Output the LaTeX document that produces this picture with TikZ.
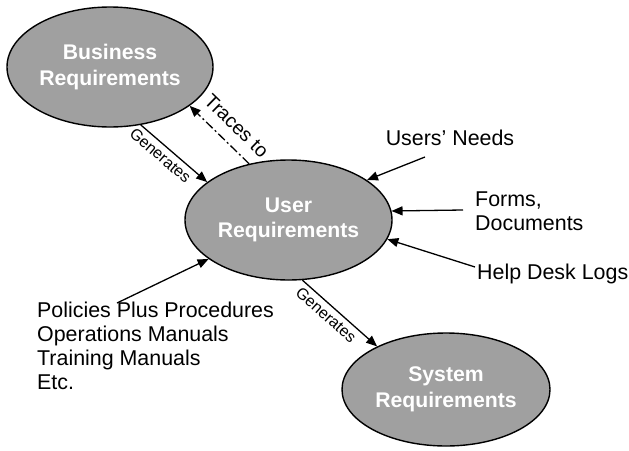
\documentclass[tikz,border=0pt]{standalone}
\usepackage{fontspec}
\setmainfont{Liberation Sans}
\usetikzlibrary{shapes.geometric,arrows.meta}
\definecolor{reqgray}{RGB}{160,160,160}
\tikzset{
  req/.style={ellipse, draw=black, line width=1.4pt, fill=reqgray,
    text=white, font=\fontsize{21.2}{25.5}\selectfont\bfseries, align=center,
    inner sep=0pt},
  feed/.style={line width=1.3pt, -{Triangle[length=11pt,width=9pt]}},
  plain/.style={font=\fontsize{21.4}{24}\selectfont, align=left, inner sep=0pt},
  genlabel/.style={font=\fontsize{16}{16}\selectfont, inner sep=4pt},
}
\begin{document}
\begin{tikzpicture}[x=1pt,y=-1pt]
  \useasboundingbox (0,0) rectangle (629,450);

  % the three requirement levels
  \node[req, minimum width=206pt, minimum height=120pt] (biz) at (110,67)
    {Business\\Requirements};
  \node[req, minimum width=207pt, minimum height=120pt] (usr) at (288.5,220)
    {User\\Requirements};
  \node[req, minimum width=208pt, minimum height=113pt] (sys) at (446,389.5)
    {System\\Requirements};

  % sources feeding the user requirements
  \node[plain, anchor=center] (needs) at (450,138) {Users’ Needs};
  \node[plain, anchor=west] (forms) at (475,211) {Forms,\\Documents};
  \node[plain, anchor=west] (help) at (477,274) {Help Desk Logs};
  \node[plain, anchor=north west] (docs) at (37,302)
    {Policies Plus Procedures\\Operations Manuals\\Training Manuals\\Etc.};

  \coordinate (needsend) at (425,157);
  \coordinate (formsend) at (463,210);
  \coordinate (helpend) at (475,267);
  \coordinate (docsend) at (117,303);

  \draw[feed] (needsend) -- (usr.27);
  \draw[feed] (formsend) -- (usr.5);
  \draw[feed] (helpend) -- (usr.-11);
  \draw[feed] (docsend) -- (usr.-154);

  % relations between the levels
  \draw[feed] (biz.-62.6) -- node[genlabel, midway, sloped, below, xshift=-9pt] {Generates} (usr.155);
  \draw[feed, dash pattern=on 9pt off 3pt on 2pt off 3pt]
    (usr.125) -- node[midway, sloped, above, font=\fontsize{19.5}{19.5}\selectfont, inner sep=11pt, xshift=6pt] {Traces to} (biz.-26);
  \draw[feed] (usr.-77.3) -- node[genlabel, midway, sloped, below, xshift=-9pt] {Generates} (sys.148);
\end{tikzpicture}
\end{document}
